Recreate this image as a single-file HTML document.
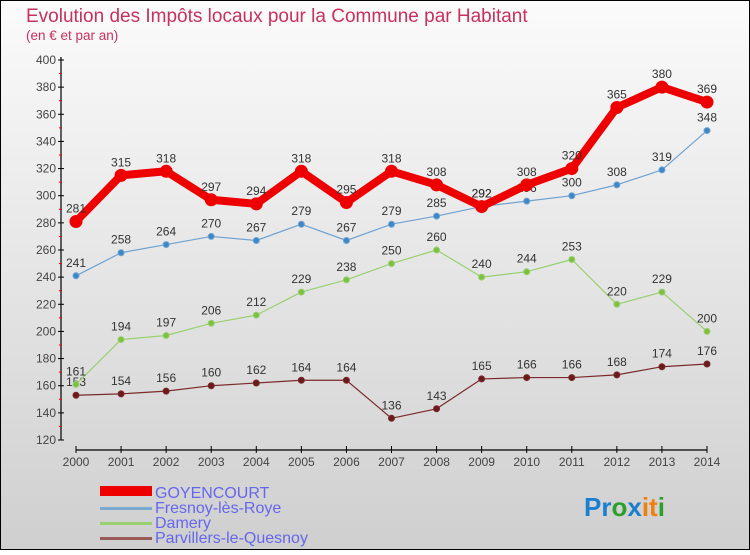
<!DOCTYPE html>
<html><head><meta charset="utf-8"><style>
body{margin:0}
#c{width:750px;height:550px;position:relative;font-family:"Liberation Sans",sans-serif}
</style></head><body>
<div id="c">
<svg id="s" width="750" height="550" xmlns="http://www.w3.org/2000/svg">
<defs><linearGradient id="bg" x1="0" y1="0" x2="0" y2="1"><stop offset="0" stop-color="#fbfbfb"/><stop offset="1" stop-color="#cfcfcf"/></linearGradient></defs>
<rect x="0.5" y="0.5" width="749" height="549" fill="url(#bg)" stroke="#000"/>
<text x="26" y="22" font-size="19" fill="#c8305f">Evolution des Impôts locaux pour la Commune par Habitant</text>
<text x="26" y="40" font-size="13.5" fill="#c8305f">(en € et par an)</text>
<g id="axes"></g><g id="series"></g>
<g>
<rect x="100" y="486" width="52" height="10" fill="#e00"/>
<text x="155" y="498" font-size="16" fill="#6666ee">GOYENCOURT</text>
<rect x="100" y="507" width="52" height="3" fill="#7aaad0"/>
<text x="155" y="513" font-size="16" fill="#6666ee">Fresnoy-lès-Roye</text>
<rect x="100" y="522" width="52" height="3" fill="#98d070"/>
<text x="155" y="528" font-size="16" fill="#6666ee">Damery</text>
<rect x="100" y="537" width="52" height="3" fill="#9b5a5a"/>
<text x="155" y="543" font-size="16" fill="#6666ee">Parvillers-le-Quesnoy</text>
</g>
<text x="584" y="516" font-size="26" font-weight="bold"><tspan fill="#1b7fd0">Pr</tspan><tspan fill="#2ca02c">o</tspan><tspan fill="#1b7fd0">x</tspan><tspan fill="#f07f0e">it</tspan><tspan fill="#2ca02c">i</tspan></text>
</svg></div>
<script>
const years=[2000,2001,2002,2003,2004,2005,2006,2007,2008,2009,2010,2011,2012,2013,2014];
const goyencourt=[281,315,318,297,294,318,295,318,308,292,308,320,365,380,369];
const fresnoy=[241,258,264,270,267,279,267,279,285,292,296,300,308,319,348];
const damery=[161,194,197,206,212,229,238,250,260,240,244,253,220,229,200];
const parvillers=[153,154,156,160,162,164,164,136,143,165,166,166,168,174,176];
const yTicks=[120,140,160,180,200,220,240,260,280,300,320,340,360,380,400];
const NS="http://www.w3.org/2000/svg";
const X=i=>76+i*(707-76)/(years.length-1);
const Y=v=>60+(400-v)*(380/280);
function mk(t,a,p){const e=document.createElementNS(NS,t);for(const k in a)e.setAttribute(k,a[k]);p.appendChild(e);return e;}
const ax=document.getElementById('axes');
const ya=mk('line',{x1:61,y1:57,x2:61,y2:440,stroke:'#000','stroke-width':1.2},ax);


yTicks.forEach(v=>{
 mk('line',{x1:58,x2:64,y1:Y(v),y2:Y(v),stroke:'#000'},ax);
 if(v<400)mk('line',{x1:59,x2:62,y1:Y(v+10),y2:Y(v+10),stroke:'#e00'},ax);
 const t=mk('text',{x:56,y:Y(v)+4,'font-size':12,fill:'#444','text-anchor':'end'},ax);t.textContent=v;
 
 
});
const xa=mk('line',{x1:76,y1:450,x2:707,y2:450,stroke:'#000','stroke-width':1.2},ax);


years.forEach((y,i)=>{
 mk('line',{x1:X(i),x2:X(i),y1:446,y2:453,stroke:'#000'},ax);
 const t=mk('text',{x:X(i),y:466,'font-size':12,fill:'#444','text-anchor':'middle'},ax);t.textContent=y;
 
 
});
const sg=document.getElementById('series');
function series(d,name,col,w,r,dot){
 const g=mk('g',{},sg);
 
 
 mk('polyline',{points:d.map((v,i)=>X(i)+','+Y(v)).join(' '),fill:'none',stroke:col,'stroke-width':w,'stroke-linejoin':'round'},g);
 d.forEach((v,i)=>{
  const c=mk('circle',{cx:X(i),cy:Y(v),r:r,fill:dot,stroke:col,'stroke-width':1},g);
  
  
  const t=mk('text',{x:X(i),y:Y(v)-9,'font-size':12,fill:'#333','text-anchor':'middle'},g);t.textContent=v;
  
  
 });
}
series(parvillers,'parvillers','#7a2a2a',1.2,3,'#6a1a1a');
series(damery,'damery','#98d070',1.2,3,'#7cc040');
series(fresnoy,'fresnoy','#6fa2d0',1.2,3,'#3a88c8');
series(goyencourt,'goyencourt','#e00',8,6,'#e00');
</script>
</body></html>
